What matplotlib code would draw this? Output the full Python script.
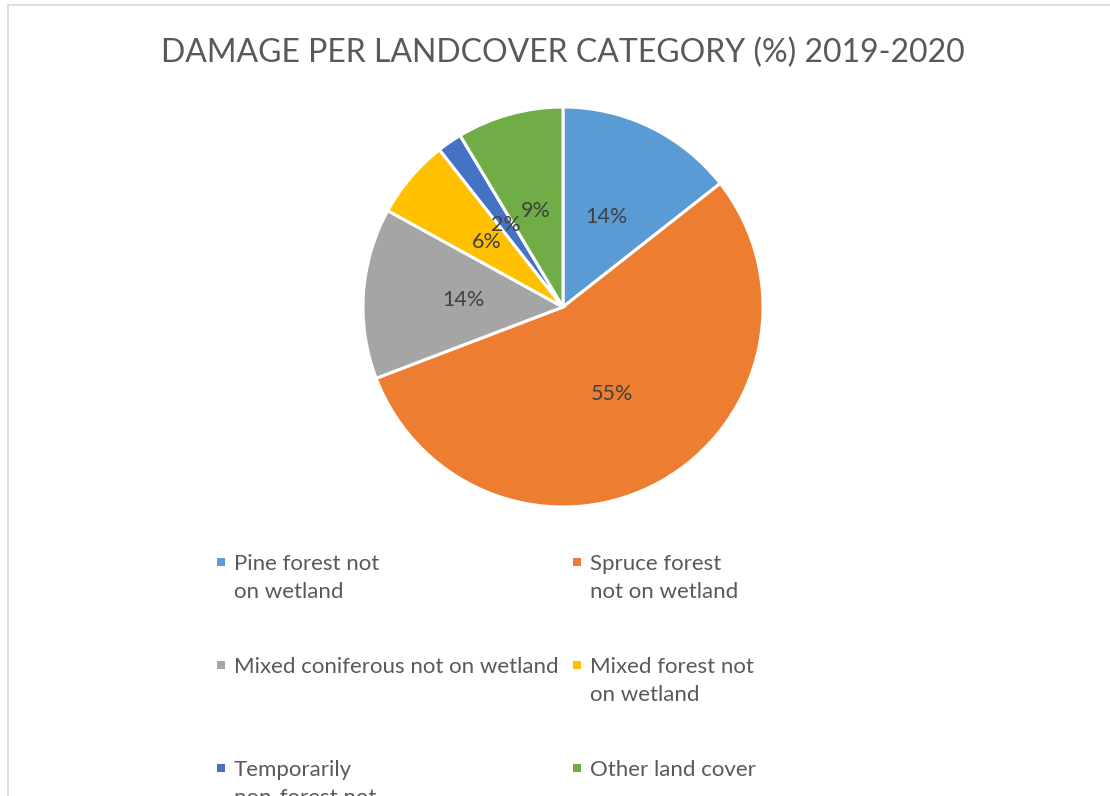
import matplotlib.pyplot as plt
from matplotlib.lines import Line2D
from matplotlib.patches import Rectangle

plt.rcParams["font.family"] = ["Lato", "DejaVu Sans"]

categories = [
    "Pine forest not\non wetland",
    "Spruce forest\nnot on wetland",
    "Mixed coniferous not on wetland",
    "Mixed forest not\non wetland",
    "Temporarily\nnon-forest not\non wetland",
    "Other land cover",
]
damage_pct = [14.4, 54.8, 13.8, 6.4, 2.0, 8.6]
colors = ["#5B9BD5", "#ED7D31", "#A5A5A5", "#FFC000", "#4472C4", "#70AD47"]
title = "DAMAGE PER LANDCOVER CATEGORY (%) 2019-2020"

W, H = 1110, 796
text_color = "#595959"

fig = plt.figure(figsize=(W / 100, H / 100), dpi=100)

# chart-area border (top and left edges only, rest is outside the canvas)
border = "#D9D9D9"
fig.add_artist(Line2D([8 / W, 1], [1 - 5 / H, 1 - 5 / H], color=border, lw=1.2))
fig.add_artist(Line2D([8 / W, 8 / W], [0, 1 - 5 / H], color=border, lw=1.2))

fig.text(563 / W, 1 - 62 / H, title, ha="center", va="baseline",
         fontsize=23, color=text_color)

# pie: centre (563, 307) px, radius 200 px
cx, cy, r = 563, 307, 200
ax = fig.add_axes([(cx - r) / W, (H - cy - r) / H, 2 * r / W, 2 * r / H])
wedges, texts, autotexts = ax.pie(
    damage_pct,
    colors=colors,
    startangle=90,
    counterclock=False,
    autopct="%1.0f%%",
    pctdistance=0.5,
    wedgeprops=dict(edgecolor="white", linewidth=2.2),
    textprops=dict(color="#404040", fontsize=15.5),
)
ax.set_xlim(-1, 1)
ax.set_ylim(-1, 1)
ax.set_aspect("equal")
ax.axis("off")

# legend laid out row-wise in two columns, one text per wrapped line
col_x = [221, 577]
row_y = [562, 665, 768]
line_step = 28
s = 8.5
for i, (label, color) in enumerate(zip(categories, colors)):
    mx = col_x[i % 2]
    my = row_y[i // 2]
    fig.add_artist(Rectangle(((mx - s / 2) / W, 1 - (my + s / 2) / H), s / W, s / H,
                             facecolor=color, edgecolor="none"))
    for k, line in enumerate(label.split("\n")):
        fig.text((mx + 13) / W, 1 - (my + 8 + k * line_step) / H, line,
                 ha="left", va="baseline", fontsize=16, color=text_color)

fig.savefig("out.png", dpi=100)
